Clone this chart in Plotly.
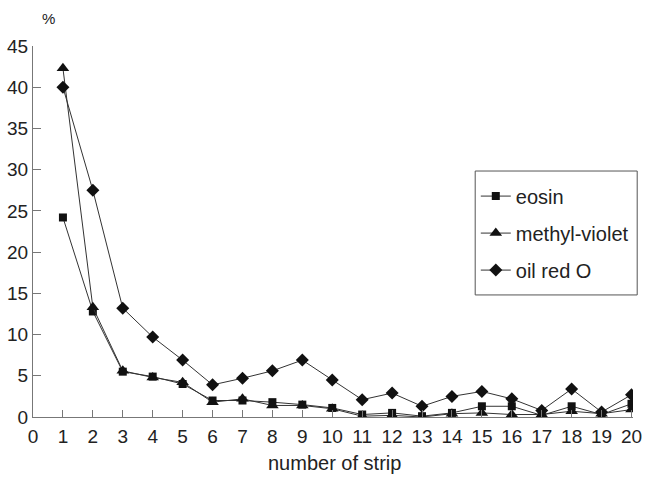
import plotly.graph_objects as go

strips = list(range(1, 21))
eosin = [24.2, 12.8, 5.5, 4.9, 4.0, 2.0, 2.0, 1.8, 1.5, 1.1, 0.3, 0.5, 0.1, 0.5, 1.3, 1.3, 0.2, 1.3, 0.3, 1.6]
methyl_violet = [42.3, 13.3, 5.6, 4.8, 4.2, 1.8, 2.2, 1.4, 1.4, 1.0, 0.1, 0.2, 0.0, 0.4, 0.5, 0.3, 0.3, 0.7, 0.4, 0.9]
oil_red_o = [40.0, 27.5, 13.2, 9.7, 6.9, 3.9, 4.7, 5.6, 6.9, 4.5, 2.1, 2.9, 1.3, 2.5, 3.1, 2.2, 0.8, 3.4, 0.6, 2.7]
x_ticks = list(range(0, 21))
y_ticks = list(range(0, 46, 5))

series = [
    ("eosin", eosin, "square", 8),
    ("methyl-violet", methyl_violet, "triangle-up", 11),
    ("oil red O", oil_red_o, "diamond", 10),
]

fig = go.Figure()
for name, vals, sym, sz in series:
    fig.add_trace(go.Scatter(
        x=strips, y=vals, name=name, mode="lines+markers",
        legendgroup=name,
        line=dict(color="#333333", width=1),
        marker=dict(symbol=sym, size=sz, color="#111111"),
    ))

fig.update_layout(
    width=646, height=486,
    margin=dict(l=33, r=13, t=46, b=69),
    paper_bgcolor="white", plot_bgcolor="white",
    font=dict(family="Liberation Sans, Arial, sans-serif", color="#222222"),
    showlegend=True,
    legend=dict(
        x=0.738, y=0.648, xanchor="left", yanchor="top",
        borderwidth=0, bgcolor="rgba(0,0,0,0)",
        font=dict(size=20, color="#222222"),
        tracegroupgap=8,
        itemwidth=30,
    ),
    xaxis=dict(
        range=[0, 20.05], tickvals=x_ticks, ticktext=[str(v) for v in x_ticks],
        automargin=False,
        showgrid=False, zeroline=False, showline=True, linecolor="#777777", linewidth=1,
        ticks="inside", ticklen=7, tickcolor="#777777",
        tickfont=dict(size=19, color="#222222"),
        ticklabelstandoff=2,
    ),
    yaxis=dict(
        range=[0, 45], tickvals=y_ticks,
        automargin=False,
        showgrid=False, zeroline=False, showline=True, linecolor="#777777", linewidth=1,
        ticks="inside", ticklen=8, tickcolor="#777777",
        tickfont=dict(size=19, color="#222222"),
    ),
    shapes=[dict(
        type="rect", xref="paper", yref="paper",
        x0=0.737, x1=1.007, y0=0.329, y1=0.663,
        line=dict(color="#555555", width=1), fillcolor="rgba(0,0,0,0)",
    )],
    annotations=[
        dict(
            text="%", xref="paper", yref="paper", x=0.025, y=1.075,
            xanchor="center", yanchor="middle", showarrow=False,
            font=dict(size=15, color="#222222"),
        ),
        dict(
            text="number of strip", xref="paper", yref="paper", x=0.502, y=-0.124,
            xanchor="center", yanchor="middle", showarrow=False,
            font=dict(size=20, color="#222222"),
        ),
    ],
)

fig.write_html(
    "out.html",
    config={"displayModeBar": False},
    post_script="document.body.style.margin='0';",
)
